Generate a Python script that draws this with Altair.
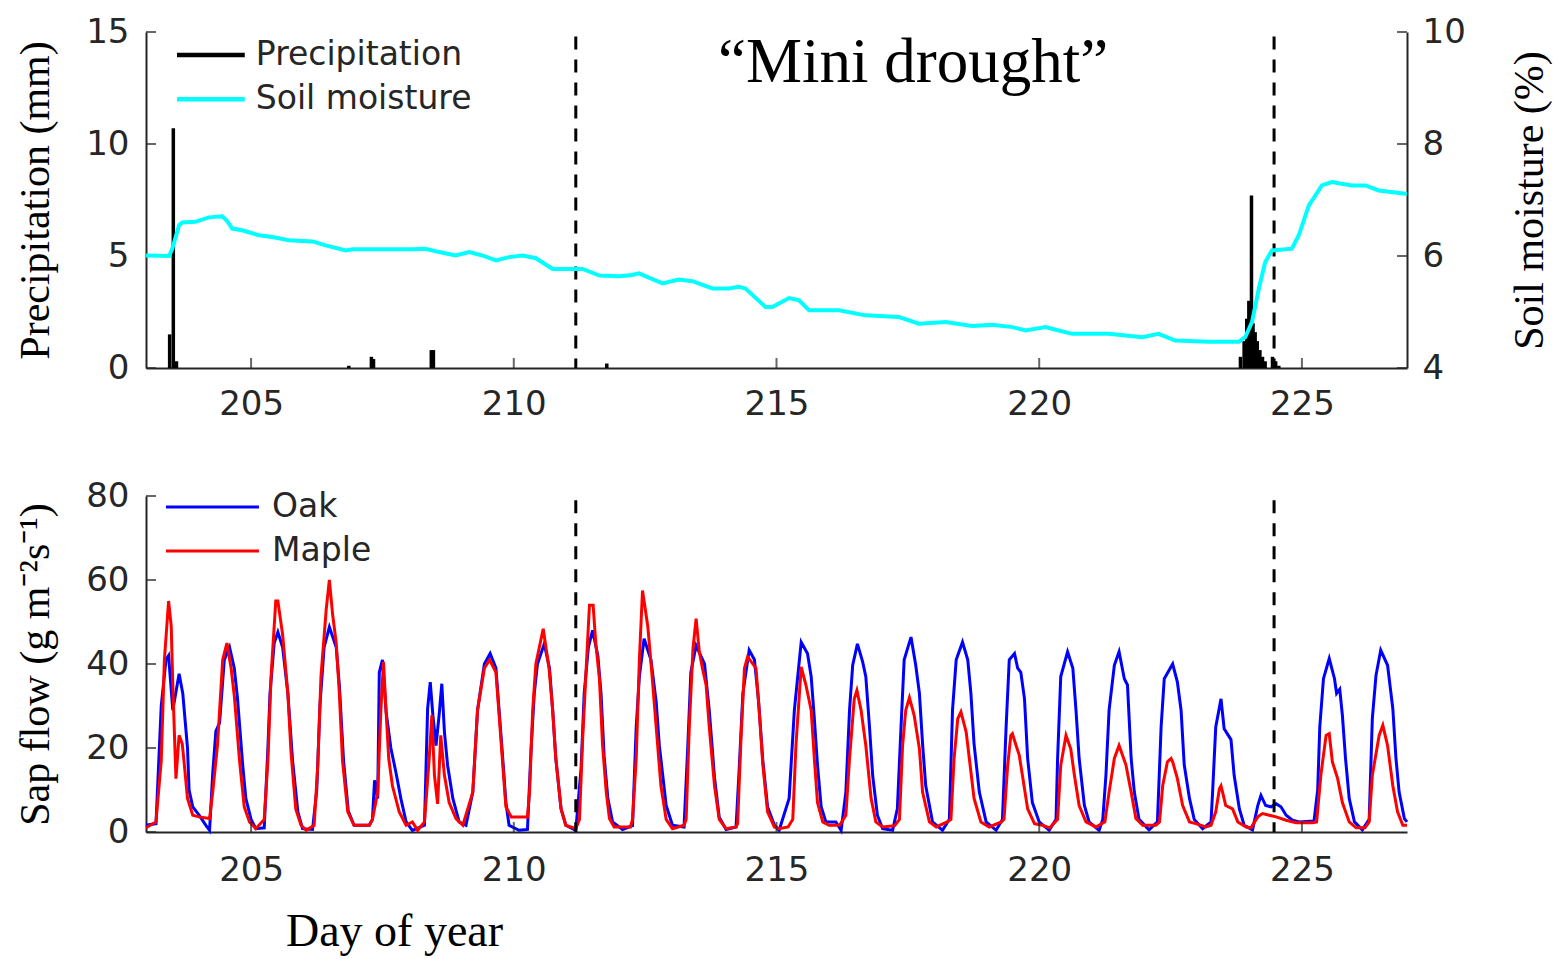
import altair as alt
import pandas as pd

# ---------------- data ----------------
oak_t = [203.00,203.19,203.29,203.38,203.43,203.51,203.63,203.70,203.79,203.82,203.89,204.01,204.14,204.21,
         204.27,204.33,204.40,204.49,204.59,204.68,204.74,204.84,204.90,205.00,205.09,205.25,
         205.32,205.36,205.44,205.51,205.60,205.70,205.79,205.89,205.98,206.17,
         206.25,206.31,206.39,206.49,206.62,206.68,206.76,206.85,206.96,207.25,
         207.31,207.35,207.41,207.44,207.50,207.57,207.66,207.76,207.85,207.95,208.07,208.30,
         208.36,208.41,208.46,208.52,208.58,208.63,208.68,208.74,208.84,208.96,
         209.09,209.22,209.31,209.44,209.55,209.66,209.72,209.79,209.85,209.91,210.10,210.26,
         210.33,210.39,210.45,210.58,210.68,210.74,210.80,210.90,210.99,211.18,
         211.28,211.34,211.42,211.50,211.60,211.66,211.72,211.79,211.88,212.07,212.26,
         212.33,212.39,212.48,212.61,212.71,212.77,212.90,213.02,213.24,
         213.31,213.37,213.47,213.63,213.72,213.82,213.91,214.04,214.23,
         214.29,214.36,214.48,214.58,214.66,214.74,214.83,214.96,215.05,
         215.24,215.34,215.47,215.59,215.66,215.72,215.78,215.85,215.94,216.13,216.23,
         216.32,216.39,216.45,216.54,216.64,216.70,216.77,216.83,216.92,217.02,217.21,
         217.30,217.37,217.43,217.56,217.65,217.72,217.78,217.84,217.97,218.16,
         218.29,218.35,218.42,218.54,218.64,218.70,218.76,218.86,218.99,219.18,
         219.30,219.37,219.43,219.53,219.59,219.65,219.72,219.78,219.87,220.00,220.19,
         220.32,220.35,220.41,220.54,220.64,220.70,220.76,220.86,220.95,221.14,
         221.21,221.27,221.33,221.43,221.52,221.62,221.68,221.75,221.81,221.90,222.09,
         222.25,222.32,222.38,222.54,222.63,222.70,222.76,222.86,222.95,223.11,
         223.27,223.30,223.36,223.46,223.52,223.65,223.71,223.81,223.90,224.06,
         224.16,224.22,224.31,224.41,224.51,224.60,224.70,224.82,224.95,225.23,
         225.30,225.34,225.41,225.52,225.62,225.66,225.72,225.77,225.83,225.90,226.00,226.15,
         226.28,226.34,226.41,226.50,226.63,226.73,226.79,226.85,226.95,227.00]
oak_v = [1.6,2.0,30,41,42,29,37.7,33,20,10,6,4,1.6,0.4,
         14,24,26,41,44,39,32,16,8,3,0.8,1.0,
         20,33,45,47.6,44,33,17,4.8,0.8,0.6,
         10,30,44,48.8,44,35,17,5,1.6,1.6,
         3,12.3,8,38,41,28.6,20,14,8,2.4,0.4,1.6,
         29.4,35.7,27.8,20.6,28,35.3,23.8,15.9,8,2.4,
         1.6,9.5,29,40,42.5,39,29,17.5,7,1.6,0.4,0.6,
         20,33,40,44.8,39,29,17.5,5.5,1.6,0.4,
         15,33,44,48,42,33,18,8,2.4,0.6,1.5,
         25,37,46,41,31,20.6,6.3,1.6,1.2,
         20,38,44.4,40,29,13,3.5,0.6,1.2,
         15,33,43.3,41,31,17,6,1.6,0.4,
         8,29,45.2,42.5,37,27,16,6,2.4,2.4,0.4,
         9.5,29,39.7,44.8,40.5,37,25,13.5,4,0.8,0.4,
         5.5,25,41,46.4,39.7,33,21,11,2.4,0.4,
         3,29,41,45.2,41,33,21,9.5,2.4,0.4,
         3,25,41,42.5,39,38,31.7,17.5,7,2.4,0.4,
         3,17.5,37,42.9,39,29,17.5,6.3,2.4,0.4,
         3,13.5,29,39.7,42.9,36.5,35,17.5,9.5,3,0.5,
         2.4,25,36.5,40,35.7,29,16,8,3,0.8,
         2.4,9.5,25,31.7,24.6,22,13.5,5.5,1.6,0.5,
         6.3,8.7,6.3,6,6.7,6,4,2.8,2.4,2.6,
         10,25,36.5,41.3,36.5,33,34,27.8,17.5,8,2.4,0.5,
         3,27,37.3,43.3,39.7,29.4,17.5,9.5,3.2,2.4]

maple_t = [203.00,203.19,203.29,203.35,203.43,203.48,203.51,203.57,203.63,203.69,203.73,203.79,203.89,204.01,204.21,
           204.27,204.36,204.46,204.54,204.62,204.68,204.78,204.87,204.97,205.09,205.25,
           205.32,205.38,205.47,205.51,205.60,205.70,205.76,205.85,205.95,206.05,206.20,
           206.27,206.33,206.43,206.49,206.55,206.62,206.68,206.74,206.84,206.96,207.25,
           207.31,207.41,207.47,207.52,207.57,207.62,207.69,207.82,207.95,208.07,208.17,208.30,
           208.39,208.44,208.49,208.55,208.61,208.68,208.77,208.90,209.03,
           209.22,209.31,209.44,209.54,209.66,209.72,209.79,209.85,209.95,210.26,
           210.30,210.36,210.42,210.56,210.67,210.74,210.80,210.90,210.99,211.18,
           211.25,211.31,211.37,211.44,211.51,211.56,211.63,211.69,211.76,211.82,211.91,212.22,
           212.26,212.33,212.39,212.45,212.55,212.62,212.71,212.80,212.90,213.02,213.24,
           213.28,213.34,213.41,213.47,213.53,213.59,213.66,213.72,213.82,213.91,214.04,214.23,
           214.26,214.32,214.39,214.45,214.61,214.67,214.74,214.83,214.96,215.05,215.22,
           215.31,215.37,215.47,215.56,215.66,215.72,215.78,215.88,216.00,216.20,
           216.32,216.39,216.48,216.53,216.61,216.70,216.80,216.89,217.02,217.25,
           217.34,217.40,217.46,217.53,217.62,217.72,217.78,217.91,218.04,218.25,
           218.32,218.38,218.45,218.51,218.61,218.67,218.76,218.89,219.05,219.28,
           219.33,219.40,219.46,219.49,219.56,219.62,219.68,219.78,219.91,220.06,220.20,
           220.35,220.41,220.51,220.60,220.67,220.76,220.89,221.08,221.25,
           221.33,221.43,221.52,221.65,221.75,221.84,221.97,222.22,
           222.29,222.35,222.44,222.51,222.54,222.63,222.73,222.86,222.98,223.17,
           223.27,223.36,223.43,223.46,223.49,223.55,223.68,223.78,223.94,224.03,
           224.16,224.25,224.38,224.51,224.70,224.89,225.20,
           225.28,225.36,225.46,225.52,225.58,225.68,225.77,225.90,226.03,226.20,
           226.28,226.34,226.47,226.54,226.63,226.73,226.82,226.92,227.00]
maple_v = [1.0,2.4,17,41,55,49,35,12.7,23,21,16,8,4,3.6,3.2,
           9.5,20.6,41,45,39,32.5,17,6,2.4,0.8,3,
           17,37,55,55,47,33,19,5.5,1.6,0.4,1.6,
           16,37,53,60,52,45,33,17,4.8,1.6,1.6,
           3,9.5,29,40.5,28.6,17.5,11,4.8,1.6,2.4,0.4,2.4,
           17.5,27.8,13.5,6.7,23,13.5,7,3.2,1.6,
           9.5,29,39,41,38,28,16,6,3.6,3.6,
           9.5,29,40,48.4,39,29,17.5,5.5,1.6,0.8,
           3,22,37,54,54,45,36.5,20.6,9.5,3.2,1.2,1.2,
           3,17.5,41,57.5,49,39,25,11,3,0.8,1.6,
           3,25,43.6,50.8,43,39,35,25,11,3,0.8,1.2,
           2,21,39,41.7,39,29,16,4.8,1.2,0.8,1.2,
           3,20.6,39.3,35,29,17.5,7,2.4,1.6,1.6,
           4,17.5,31.7,33.7,29,20.6,8,2.4,1.2,1.5,
           3,20.6,29,32,27.8,19.8,9.5,2.4,1.2,2.4,
           3,17.5,27,28.6,23.8,17.5,8,2.4,1.2,2.4,
           3,15.9,23,23.4,20.6,18.3,13.5,5.5,2,1.6,1.0,
           3,15.9,23,19.8,13.5,6.3,2.4,1.2,2.4,
           9.5,17.5,20.6,16,9.5,3.2,1.6,1.6,
           2.4,11,16.7,17.5,16.7,12.7,6.3,2.4,2,1.2,
           1.6,4.8,10.3,11,9.5,6.3,5.5,2.4,1.2,1.0,
           3.6,4.4,4,3.6,2.8,2.2,2.2,
           2.4,13.5,23,23.4,16.7,12.7,7,2.4,1.0,1.0,
           2.4,13.5,23,25.4,20.6,11,4.8,1.6,1.6]

soil_t = [203.00,203.44,203.50,203.63,203.69,203.94,204.20,204.45,204.54,204.64,204.83,205.15,205.40,205.72,
          206.17,206.42,206.80,206.93,207.31,208.07,208.32,208.58,208.89,209.15,209.40,209.66,209.91,
          210.17,210.42,210.74,211.12,211.31,211.63,212.01,212.25,212.38,212.83,213.14,213.40,213.78,
          214.09,214.28,214.41,214.79,214.92,215.24,215.43,215.62,216.19,216.69,217.33,217.71,218.22,
          218.72,219.10,219.49,219.74,220.12,220.37,220.63,221.32,221.96,222.27,222.59,223.22,223.80,
          223.92,224.05,224.18,224.30,224.43,224.81,224.94,225.13,225.38,225.57,225.95,226.21,226.46,
          226.97,227.00]
soil_v = [6.01,6.00,6.13,6.55,6.60,6.61,6.69,6.71,6.63,6.49,6.46,6.37,6.34,6.28,
          6.26,6.19,6.10,6.12,6.12,6.12,6.13,6.07,6.01,6.07,6.01,5.92,5.98,
          6.01,5.96,5.77,5.77,5.77,5.65,5.64,5.66,5.69,5.51,5.58,5.55,5.42,
          5.42,5.45,5.42,5.09,5.09,5.25,5.21,5.03,5.03,4.94,4.91,4.79,4.82,
          4.75,4.77,4.73,4.67,4.73,4.67,4.61,4.61,4.55,4.61,4.49,4.47,4.47,
          4.55,4.82,5.42,5.89,6.10,6.13,6.37,6.90,7.26,7.32,7.26,7.26,7.17,
          7.11,7.11]

precip_t = [203.45,203.52,203.58,206.86,207.29,207.33,208.43,208.47,211.77,
            223.83,223.90,223.95,223.99,224.04,224.07,224.11,224.15,224.20,224.25,224.30,224.44,224.50,224.56]
precip_v = [1.5,10.7,0.3,0.1,0.5,0.4,0.8,0.8,0.2,
            0.5,1.2,2.2,3.0,7.7,2.0,1.6,1.2,0.8,0.5,0.3,0.5,0.3,0.1]

drought_bounds = [211.18, 224.47]
x_ticks = [205, 210, 215, 220, 225]
precip_ticks = [0, 5, 10, 15]
soil_ticks = [4, 6, 8, 10]
sap_ticks = [0, 20, 40, 60, 80]

# ---------------- layout constants ----------------
W, H = 1261, 336
XDOM = [203, 227]
AX = "#262626"
SANS = "DejaVu Sans"
SERIF = "Liberation Serif"

xs = alt.Scale(domain=XDOM, nice=False, zero=False)
ps = alt.Scale(domain=[0, 15], nice=False)
ss = alt.Scale(domain=[4, 10], nice=False)
fs = alt.Scale(domain=[0, 80], nice=False)

x_axis = alt.Axis(values=x_ticks, title=None, labelPadding=19, format="d")
x_axis_b = alt.Axis(values=x_ticks, title="Day of year", labelPadding=21, format="d",
                    titleX=248, titleY=113, titleAlign="center", titleBaseline="alphabetic",
                    titleFontSize=46)
p_axis = alt.Axis(values=precip_ticks, title="Precipitation (mm)", labelPadding=17, titlePadding=28)
s_axis = alt.Axis(orient="right", values=soil_ticks, title="Soil moisture (%)",
                  labelPadding=15, titlePadding=86, titleAngle=270)
f_axis = alt.Axis(values=sap_ticks, title="Sap flow (g m\u207b\u00b2s\u207b\u00b9)",
                  labelPadding=17, titlePadding=28)

def XT(field):
    return alt.X(field, scale=xs, axis=x_axis)

def XB(field):
    return alt.X(field, scale=xs, axis=x_axis_b)

def YP(field):
    return alt.Y(field, scale=ps, axis=p_axis)

def YS(field):
    return alt.Y(field, scale=ss, axis=s_axis)

def YF(field):
    return alt.Y(field, scale=fs, axis=f_axis)

precip_df = pd.DataFrame({"t": precip_t, "p": precip_v, "z": [0] * len(precip_t)})
soil_df = pd.DataFrame({"t": soil_t, "sm": soil_v})
oak_df = pd.DataFrame({"t": oak_t, "v": oak_v})
maple_df = pd.DataFrame({"t": maple_t, "v": maple_v})
dash_top = pd.DataFrame({"t": drought_bounds, "a": [14.8, 14.8], "b": [0, 0]})
dash_bot = pd.DataFrame({"t": drought_bounds, "a": [79, 79], "b": [0, 0]})

# ---------------- top panel ----------------
precip = alt.Chart(precip_df).mark_rule(color="black", strokeWidth=3.5).encode(
    x=XT("t:Q"), y=YP("p:Q"), y2="z:Q")
dashes_t = alt.Chart(dash_top).mark_rule(color="black", strokeWidth=3, strokeDash=[13, 10]).encode(
    x=XT("t:Q"), y=YP("a:Q"), y2="b:Q")
title_df = pd.DataFrame({"t": [217.6], "p": [12.77], "s": ["\u201cMini drought\u201d"]})
mini = alt.Chart(title_df).mark_text(font=SERIF, fontSize=63, align="center", baseline="alphabetic",
                                     color="black").encode(x=XT("t:Q"), y=YP("p:Q"), text="s:N")
leg_top = pd.DataFrame({"x1": [203.59, 203.59], "x2": [204.88, 204.88], "y": [13.97, 12.0],
                        "c": ["black", "#00FFFF"], "lx": [205.09, 205.09],
                        "lab": ["Precipitation", "Soil moisture"]})
leg_top_lines = alt.Chart(leg_top).mark_rule(strokeWidth=4.5).encode(
    x=XT("x1:Q"), x2="x2:Q", y=YP("y:Q"), color=alt.Color("c:N", scale=None))
leg_top_text = alt.Chart(leg_top).mark_text(font=SANS, fontSize=33, align="left", baseline="middle",
                                            color=AX).encode(x=XT("lx:Q"), y=YP("y:Q"), text="lab:N")
xt_top = alt.Chart(pd.DataFrame({"t": x_ticks})).mark_tick(orient="vertical", size=10, thickness=2, color=AX).encode(
    x=XT("t:Q"), y=alt.value(H - 5))
yt_top = alt.Chart(pd.DataFrame({"p": precip_ticks})).mark_tick(orient="horizontal", size=10, thickness=2, color=AX).encode(
    y=YP("p:Q"), x=alt.value(5))

precip_group = alt.layer(precip, dashes_t, mini, leg_top_lines, leg_top_text, xt_top, yt_top)

soil = alt.Chart(soil_df).mark_line(color="#00FFFF", strokeWidth=4).encode(x=XT("t:Q"), y=YS("sm:Q"))
yt_soil = alt.Chart(pd.DataFrame({"sm": soil_ticks})).mark_tick(orient="horizontal", size=10, thickness=2, color=AX).encode(
    y=YS("sm:Q"), x=alt.value(W - 5))
soil_group = alt.layer(soil, yt_soil)

top = alt.layer(precip_group, soil_group).resolve_scale(y="independent").properties(width=W, height=H)

# ---------------- bottom panel ----------------
oak = alt.Chart(oak_df).mark_line(color="#0000FF", strokeWidth=3).encode(x=XB("t:Q"), y=YF("v:Q"))
maple = alt.Chart(maple_df).mark_line(color="#FF0000", strokeWidth=3).encode(x=XB("t:Q"), y=YF("v:Q"))
dashes_b = alt.Chart(dash_bot).mark_rule(color="black", strokeWidth=3, strokeDash=[13, 10]).encode(
    x=XB("t:Q"), y=YF("a:Q"), y2="b:Q")
leg_bot = pd.DataFrame({"x1": [203.38, 203.38], "x2": [205.15, 205.15], "y": [77.4, 66.9],
                        "c": ["#0000FF", "#FF0000"], "lx": [205.4, 205.4], "lab": ["Oak", "Maple"]})
leg_bot_lines = alt.Chart(leg_bot).mark_rule(strokeWidth=3).encode(
    x=XB("x1:Q"), x2="x2:Q", y=YF("y:Q"), color=alt.Color("c:N", scale=None))
leg_bot_text = alt.Chart(leg_bot).mark_text(font=SANS, fontSize=33, align="left", baseline="middle",
                                            color=AX).encode(x=XB("lx:Q"), y=YF("y:Q"), text="lab:N")
xt_bot = alt.Chart(pd.DataFrame({"t": x_ticks})).mark_tick(orient="vertical", size=10, thickness=2, color=AX).encode(
    x=XB("t:Q"), y=alt.value(H - 5))
yt_bot = alt.Chart(pd.DataFrame({"v": sap_ticks})).mark_tick(orient="horizontal", size=10, thickness=2, color=AX).encode(
    y=YF("v:Q"), x=alt.value(5))

bottom = alt.layer(oak, maple, dashes_b, leg_bot_lines, leg_bot_text, xt_bot, yt_bot).properties(width=W, height=H)

chart = alt.vconcat(top, bottom, spacing=58).properties(
    padding={"left": 14, "top": 15, "right": 10, "bottom": 5}
).configure_view(stroke=None).configure_axis(
    grid=False, ticks=False, domainColor=AX, domainWidth=2,
    labelFont=SANS, labelFontSize=34, labelColor=AX,
    titleFont=SERIF, titleFontSize=42, titleFontWeight="normal", titleColor="black",
)

chart.save("out.html", embed_options={"renderer": "svg", "actions": False})
